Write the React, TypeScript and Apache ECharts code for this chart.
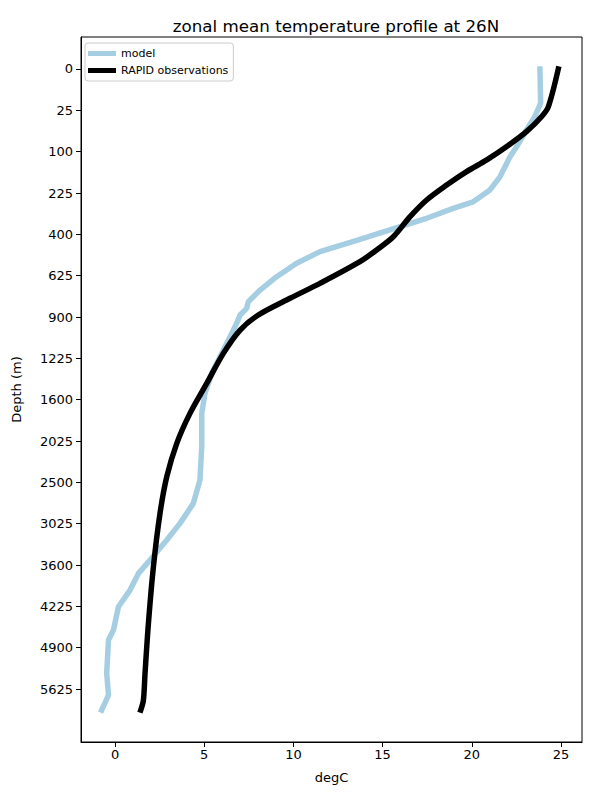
import React, { useEffect, useRef } from "react";
import * as echarts from "echarts";

const modelDepth = [0, 17, 33, 54, 88, 113, 170, 214, 258, 284, 326, 364, 428, 488, 552, 631, 715, 792, 838, 885, 946, 1048, 1183, 1355, 1539, 1735, 2087, 2471, 2760, 3020, 3246, 3528, 3722, 3972, 4230, 4605, 4771, 5344, 5734, 6012];
const modelTemp = [23.82, 23.86, 23.54, 23.08, 22.52, 22.14, 21.58, 21.02, 20.08, 18.96, 17.47, 15.98, 13.6, 11.49, 10.18, 9.06, 8.13, 7.47, 7.38, 7.01, 6.82, 6.45, 5.98, 5.42, 5.04, 4.86, 4.86, 4.76, 4.39, 3.64, 2.9, 1.96, 1.31, 0.84, 0.19, -0.09, -0.37, -0.47, -0.37, -0.75];

const rapidDepth = [0, 21, 33, 57, 88, 121, 154, 197, 251, 319, 412, 479, 543, 672, 769, 885, 997, 1183, 1446, 1735, 2050, 2432, 2889, 3624, 4496, 5344, 5826, 6012];
const rapidTemp = [24.85, 24.29, 23.92, 23.08, 21.96, 20.84, 19.71, 18.59, 17.47, 16.54, 15.6, 14.67, 13.73, 11.49, 9.81, 8.03, 7.01, 6.07, 5.14, 4.2, 3.46, 2.9, 2.52, 2.15, 1.87, 1.68, 1.59, 1.44];

const xTicks = [0, 5, 10, 15, 20, 25];
const depthTicks = [0, 25, 100, 225, 400, 625, 900, 1225, 1600, 2025, 2500, 3025, 3600, 4225, 4900, 5625];

const FONT = "DejaVu Sans";

export default function App() {
  const ref = useRef<HTMLDivElement>(null);
  useEffect(() => {
    const chart = echarts.init(ref.current!, null, { renderer: "svg" });
    const toPts = (d: number[], t: number[]) => d.map((v, i) => [t[i], Math.sqrt(v)]);
    chart.setOption({
      animation: false,
      title: {
        text: "zonal mean temperature profile at 26N",
        left: 331,
        top: 12,
        textAlign: "center",
        textStyle: { fontFamily: FONT, fontSize: 16.7, fontWeight: "normal", color: "#000" },
      },
      grid: { left: 81, top: 37, right: 18, bottom: 58, show: true, borderColor: "#000", borderWidth: 1 },
      legend: {
        orient: "vertical",
        left: 85,
        top: 43,
        icon: "rect",
        itemWidth: 28,
        itemHeight: 5,
        itemGap: 6,
        padding: [5, 5, 5, 3],
        borderColor: "#ccc",
        borderWidth: 1,
        borderRadius: 3,
        textStyle: { fontFamily: FONT, fontSize: 11, color: "#000" },
        data: ["model", "RAPID observations"],
      },
      xAxis: {
        type: "value",
        min: -1.91,
        max: 26.18,
        name: "degC",
        nameLocation: "middle",
        nameGap: 29,
        nameTextStyle: { fontFamily: FONT, fontSize: 13, color: "#000" },
        splitLine: { show: false },
        axisLine: { show: true, onZero: false, lineStyle: { color: "#000" } },
        axisTick: { show: true, length: 5, customValues: xTicks, lineStyle: { color: "#000" } },
        axisLabel: { customValues: xTicks, fontFamily: FONT, fontSize: 13, color: "#000", margin: 6 },
      },
      yAxis: {
        type: "value",
        inverse: true,
        min: -3.87,
        max: 81.4,
        name: "Depth (m)",
        nameLocation: "middle",
        nameGap: 58,
        nameRotate: 90,
        nameTextStyle: { fontFamily: FONT, fontSize: 13, color: "#000" },
        splitLine: { show: false },
        axisLine: { show: true, onZero: false, lineStyle: { color: "#000" } },
        axisTick: { show: true, length: 5, customValues: depthTicks.map(Math.sqrt), lineStyle: { color: "#000" } },
        axisLabel: {
          customValues: depthTicks.map(Math.sqrt),
          fontFamily: FONT,
          fontSize: 13,
          color: "#000",
          margin: 8,
          formatter: (v: number) => String(Math.round(v * v)),
        },
      },
      series: [
        {
          name: "model",
          type: "line",
          data: toPts(modelDepth, modelTemp),
          showSymbol: false,
          symbol: "none",
          color: "#a6cee3",
          lineStyle: { width: 5.5, color: "#a6cee3", cap: "square" },
        },
        {
          name: "RAPID observations",
          type: "line",
          data: toPts(rapidDepth, rapidTemp),
          showSymbol: false,
          symbol: "none",
          smooth: 0.3,
          color: "#000",
          lineStyle: { width: 5.5, color: "#000", cap: "square" },
        },
      ],
    });
    return () => chart.dispose();
  }, []);
  return <div ref={ref} style={{ width: 600, height: 800, position: "absolute", left: 0, top: 0 }} />;
}
